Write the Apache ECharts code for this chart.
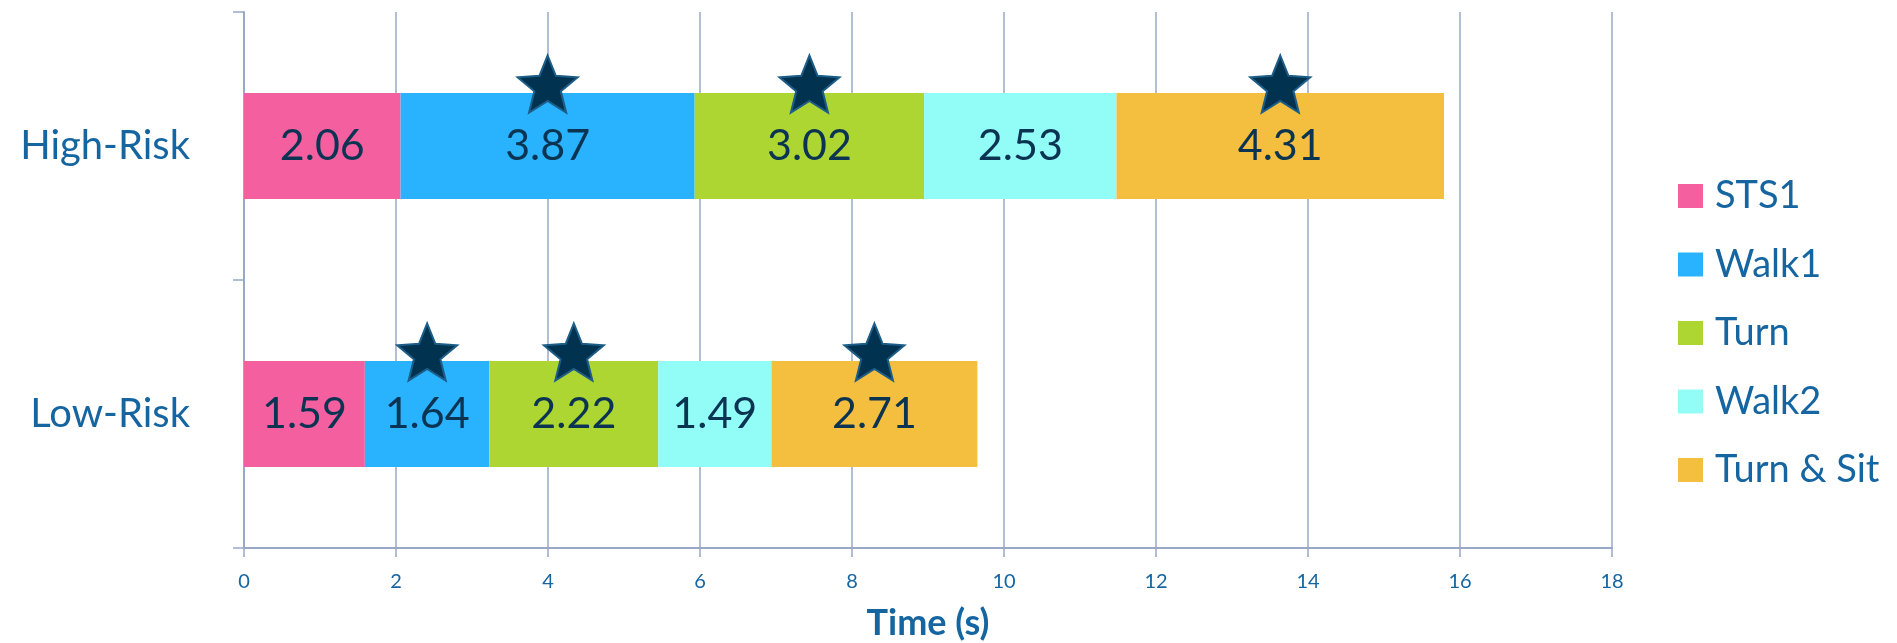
<!DOCTYPE html>
<html>
<head>
<meta charset="utf-8">
<title>TUG phase durations</title>
<script src="https://cdn.jsdelivr.net/npm/echarts@6/dist/echarts.min.js"></script>
<style>
  html, body { margin: 0; padding: 0; background: #fff; }
  #chart { width: 1897px; height: 643px; }
</style>
</head>
<body>
<div id="chart"></div>
<script>
// data
const categories = ['High-Risk', 'Low-Risk'];
const phases = ['STS1', 'Walk1', 'Turn', 'Walk2', 'Turn & Sit'];
const highRisk = [2.06, 3.87, 3.02, 2.53, 4.31];
const lowRisk = [1.59, 1.64, 2.22, 1.49, 2.71];
// which phases carry a significance star
const starHigh = [false, true, true, false, true];
const starLow = [false, true, true, false, true];
const xTicks = [0, 18, 2]; // min, max, interval

const colors = ['#F45FA0', '#29B3FF', '#ADD632', '#92FCF7', '#F4BE3E'];
const textBlue = '#1565A0';
const labelNavy = '#0B3352';
const gridGray = '#98A8C6';
const font = 'Lato';

// five pointed star as svg path
function starPath(inner) {
  const pts = [];
  for (let i = 0; i < 10; i++) {
    const r = i % 2 === 0 ? 50 : 50 * inner;
    const a = -Math.PI / 2 + i * Math.PI / 5;
    pts.push((50 + r * Math.cos(a)).toFixed(2) + ' ' + (50 + r * Math.sin(a)).toFixed(2));
  }
  return 'path://M' + pts.join(' L') + ' Z';
}

// star sits above the middle of its segment
function starPoints(values, flags, cat) {
  const out = [];
  let acc = 0;
  values.forEach((v, i) => {
    if (flags[i]) out.push([acc + v / 2, cat]);
    acc += v;
  });
  return out;
}

const chart = echarts.init(document.getElementById('chart'));

const barSeries = phases.map((name, i) => ({
  name: name,
  type: 'bar',
  stack: 'total',
  barWidth: 106,
  itemStyle: { color: colors[i] },
  label: {
    show: true,
    position: 'inside',
    color: labelNavy,
    fontFamily: font,
    fontSize: 43,
    formatter: p => p.value.toFixed(2)
  },
  data: [highRisk[i], lowRisk[i]]
}));

chart.setOption({
  animation: false,
  textStyle: { fontFamily: font },
  grid: { left: 244, right: 285, top: 12, bottom: 95, outerBoundsMode: 'none', containLabel: false },
  legend: {
    data: phases,
    orient: 'vertical',
    left: 1673,
    top: 171,
    icon: 'rect',
    itemWidth: 25,
    itemHeight: 24,
    itemGap: 28.5,
    textStyle: { color: textBlue, fontSize: 38, lineHeight: 40, fontFamily: font, padding: [0, 0, 0, 7] }
  },
  xAxis: {
    type: 'value',
    min: xTicks[0],
    max: xTicks[1],
    interval: xTicks[2],
    name: 'Time (s)',
    nameLocation: 'middle',
    nameGap: 57,
    nameTextStyle: { color: textBlue, fontSize: 36, fontWeight: 'bold', fontFamily: font },
    axisLine: { show: true, lineStyle: { color: gridGray, width: 2 } },
    axisTick: { show: true, length: 9, lineStyle: { color: gridGray, width: 1.5 } },
    axisLabel: { color: textBlue, fontSize: 20, margin: 24 },
    splitLine: { show: true, lineStyle: { color: gridGray, width: 1.5 } }
  },
  yAxis: {
    type: 'category',
    data: categories,
    inverse: true,
    axisLine: { show: true, lineStyle: { color: gridGray, width: 2 } },
    axisTick: { show: true, length: 11, lineStyle: { color: gridGray, width: 1.5 } },
    axisLabel: { color: textBlue, fontSize: 40, margin: 54 }
  },
  series: barSeries.concat([{
    name: 'sig',
    type: 'scatter',
    z: 5,
    symbol: starPath(0.44),
    symbolSize: [60, 57],
    symbolOffset: [0, -62],
    itemStyle: { color: '#013250', borderColor: '#1C5E88', borderWidth: 2, opacity: 1 },
    data: starPoints(highRisk, starHigh, categories[0])
      .concat(starPoints(lowRisk, starLow, categories[1]))
  }])
});
</script>
</body>
</html>
